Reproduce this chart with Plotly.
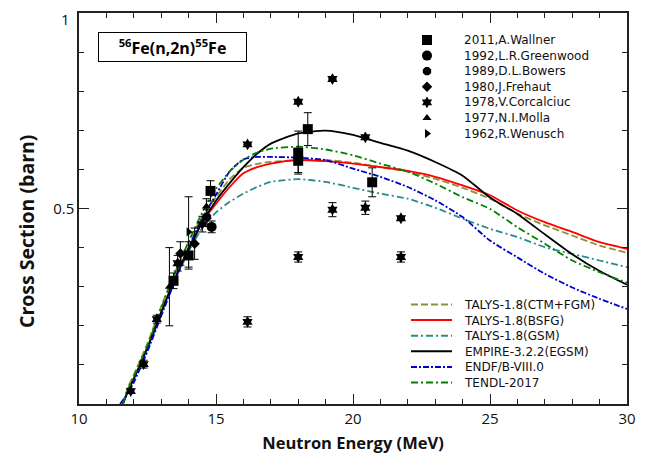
import plotly.graph_objects as go

# ---------------- data ----------------
E_grid = [11.6, 11.8, 12.0, 12.5, 13.0, 13.5, 14.0, 14.5, 15.0, 15.5, 16.0, 16.5, 17.0,
          18.0, 19.0, 20.0, 21.0, 22.0, 23.0, 24.0, 25.0, 26.0, 27.0, 28.0, 29.0, 30.0]
E_grid_endf = [11.5, 11.8, 12.0, 12.5, 13.0, 13.5, 14.0, 14.5, 15.0, 15.5, 16.0, 16.5, 17.0,
               18.0, 19.0, 20.0, 21.0, 22.0, 23.0, 24.0, 25.0, 26.0, 27.0, 28.0, 29.0, 30.0]

talys_ctm = [0.0, 0.045, 0.075, 0.155, 0.25, 0.335, 0.415, 0.48, 0.529, 0.575, 0.604, 0.614, 0.619,
             0.624, 0.624, 0.617, 0.606, 0.594, 0.576, 0.553, 0.525, 0.487, 0.457, 0.431, 0.405, 0.387]
talys_bsfg = [0.0, 0.035, 0.065, 0.145, 0.235, 0.32, 0.40, 0.465, 0.512, 0.555, 0.59, 0.606, 0.615,
              0.624, 0.621, 0.615, 0.606, 0.596, 0.581, 0.559, 0.534, 0.495, 0.465, 0.44, 0.414, 0.397]
talys_gsm = [0.0, 0.035, 0.065, 0.14, 0.23, 0.315, 0.39, 0.45, 0.49, 0.517, 0.538, 0.555, 0.568,
             0.575, 0.568, 0.553, 0.538, 0.525, 0.502, 0.474, 0.448, 0.427, 0.401, 0.384, 0.367, 0.35]
empire = [0.0, 0.035, 0.065, 0.145, 0.235, 0.32, 0.395, 0.465, 0.52, 0.565, 0.606, 0.64, 0.666,
          0.692, 0.699, 0.688, 0.668, 0.648, 0.619, 0.584, 0.528, 0.486, 0.434, 0.383, 0.34, 0.305]
endf = [0.0, 0.03, 0.055, 0.135, 0.225, 0.315, 0.40, 0.475, 0.535, 0.595, 0.626, 0.632, 0.632,
        0.630, 0.624, 0.602, 0.581, 0.555, 0.521, 0.478, 0.418, 0.375, 0.333, 0.298, 0.269, 0.243]
tendl = [0.0, 0.04, 0.07, 0.15, 0.245, 0.335, 0.415, 0.49, 0.55, 0.595, 0.625, 0.643, 0.653,
         0.658, 0.651, 0.636, 0.615, 0.594, 0.564, 0.529, 0.499, 0.452, 0.41, 0.367, 0.337, 0.31]

wallner_E = [13.45, 14.0, 14.8, 18.0, 18.0, 18.35, 20.7]
wallner_s = [0.315, 0.38, 0.545, 0.643, 0.622, 0.703, 0.567]
wallner_err = [0.02, 0.035, 0.026, 0.055, 0.03, 0.042, 0.037]

greenwood_E = [14.84]
greenwood_s = [0.453]
greenwood_err = [0.015]

bowers_E = [14.67]
bowers_s = [0.478]
bowers_err = [0.02]

frehaut_E = [13.7, 14.22]
frehaut_s = [0.385, 0.41]
frehaut_err = [0.03, 0.04]

corc_E = [11.89, 12.36, 12.84, 13.6, 14.5, 16.15, 16.15, 18.0, 18.0, 19.25, 19.25, 20.45, 20.45, 21.75, 21.75]
corc_s = [0.033, 0.102, 0.217, 0.36, 0.46, 0.664, 0.21, 0.773, 0.376, 0.831, 0.497, 0.682, 0.502, 0.475, 0.376]
corc_err = [0.005, 0.01, 0.01, 0.02, 0.02, 0, 0.013, 0, 0.013, 0, 0.018, 0, 0.017, 0, 0.013]

molla_E = [13.3, 14.65]
molla_s = [0.30, 0.505]
molla_err = [0.10, 0.02]

wenusch_E = [14.0]
wenusch_s = [0.44]
wenusch_err = [0.09]

x_ticks = [10, 15, 20, 25, 30]
y_ticks = [0.5, 1]
y_ticktext = ["0.5", "1"]

FONT = "Open Sans"
LEG_FONT = "DejaVu Sans"

# page body has an 8px margin; plot area in the page is x 79..627, y 13..404
OFF = 8
PX0, PX1, PY0, PY1 = 79, 627, 13, 404


def px(x):
    return (x - PX0) / (PX1 - PX0)


def py(y):
    return (PY1 - y) / (PY1 - PY0)


fig = go.Figure()

exp_sets = [
    ("2011,A.Wallner", wallner_E, wallner_s, wallner_err, "square", 10),
    ("1992,L.R.Greenwood", greenwood_E, greenwood_s, greenwood_err, "circle", 10),
    ("1989,D.L.Bowers", bowers_E, bowers_s, bowers_err, "octagon", 9),
    ("1980,J.Frehaut", frehaut_E, frehaut_s, frehaut_err, "diamond", 8),
    ("1978,V.Corcalciuc", corc_E, corc_s, corc_err, "hexagram", 9),
    ("1977,N.I.Molla", molla_E, molla_s, molla_err, "triangle-up", 8),
    ("1962,R.Wenusch", wenusch_E, wenusch_s, wenusch_err, "triangle-right", 8),
]

model_sets = [
    ("TALYS-1.8(CTM+FGM)", E_grid, talys_ctm, "#8f8f3a", "7px,3px"),
    ("TALYS-1.8(BSFG)", E_grid, talys_bsfg, "#ff0000", "solid"),
    ("TALYS-1.8(GSM)", E_grid, talys_gsm, "#2a8a8a", "7px,3px,2px,3px"),
    ("EMPIRE-3.2.2(EGSM)", E_grid, empire, "#000000", "solid"),
    ("ENDF/B-VIII.0", E_grid_endf, endf, "#0000cc", "6px,2px,2px,2px"),
    ("TENDL-2017", E_grid, tendl, "#008000", "7px,3px,2px,3px"),
]

for name, E, s, color, dash in model_sets:
    fig.add_trace(go.Scatter(
        x=E, y=s, mode="lines", name=name, showlegend=False,
        line=dict(color=color, dash=dash, width=1.8, shape="spline", smoothing=0.6),
    ))

for name, E, s, err, symbol, size in exp_sets:
    fig.add_trace(go.Scatter(
        x=E, y=s, mode="markers", name=name, showlegend=False,
        marker=dict(symbol=symbol, size=size, color="black"),
        error_y=dict(type="data", array=err, color="black", thickness=1, width=4, visible=True),
        cliponaxis=False,
    ))

# ---------- hand-drawn legends (paper coordinates via overlay axes) ----------
LEG_SIZE = 12
ROW = 1.3 * LEG_SIZE          # plotly line spacing for multi-line text
mk_top, mk_x, txt_x = 40, 427, 462
mk_rows = [mk_top + i * ROW for i in range(len(exp_sets))]
for (name, E, s, err, symbol, size), yrow in zip(exp_sets, mk_rows):
    fig.add_trace(go.Scatter(
        x=[px(mk_x)], y=[py(yrow)], xaxis="x2", yaxis="y2", mode="markers",
        marker=dict(symbol=symbol, size=size, color="black"), showlegend=False,
        hoverinfo="skip", cliponaxis=False,
    ))
fig.add_annotation(xref="paper", yref="paper", x=px(txt_x), y=py((mk_rows[0] + mk_rows[-1]) / 2),
                   xanchor="left", yanchor="middle", align="left", showarrow=False,
                   text="<br>".join(e[0] for e in exp_sets),
                   font=dict(family=LEG_FONT, size=LEG_SIZE, color="#111"))

ln_top = 304.5
ln_rows = [ln_top + i * ROW for i in range(len(model_sets))]
for (name, E, s, color, dash), yrow in zip(model_sets, ln_rows):
    fig.add_shape(type="line", xref="paper", yref="paper",
                  x0=px(411), x1=px(452), y0=py(yrow), y1=py(yrow),
                  line=dict(color=color, dash=dash, width=2))
fig.add_annotation(xref="paper", yref="paper", x=px(txt_x), y=py((ln_rows[0] + ln_rows[-1]) / 2),
                   xanchor="left", yanchor="middle", align="left", showarrow=False,
                   text="<br>".join(m[0] for m in model_sets),
                   font=dict(family=LEG_FONT, size=LEG_SIZE, color="#111"))

axis_common = dict(
    showline=True, linecolor="#222", linewidth=1.5, mirror="ticks",
    ticks="inside", ticklen=10, tickwidth=1.2, tickcolor="#222",
    showgrid=False, zeroline=False, automargin=False,
    tickfont=dict(family=FONT, size=15, color="#111"),
)

xaxis = dict(
    range=[10, 30], tickvals=x_ticks,
    minor=dict(dtick=1, tick0=10, ticks="inside", ticklen=5, tickcolor="#222", tickwidth=1.2, showgrid=False),
    title=dict(text="<b>Neutron Energy (MeV)</b>", font=dict(family=FONT, size=16.5, color="#111"), standoff=11),
    **axis_common,
)
# the label of the top tick (1) sits at the very edge of the page, so it is
# drawn as an annotation just inside the figure instead of as an axis label
yaxis = dict(
    range=[0, 1], tickvals=y_ticks[:1], ticktext=y_ticktext[:1],
    minor=dict(dtick=0.1, tick0=0, ticks="inside", ticklen=5, tickcolor="#222", tickwidth=1.2, showgrid=False),
    **axis_common,
)
fig.add_annotation(
    xref="paper", yref="y", x=px(71), y=y_ticks[1], xanchor="right", yanchor="top",
    yshift=(PY0 - OFF), text=y_ticktext[1], showarrow=False, borderpad=0,
    font=dict(family=FONT, size=15, color="#111"),
)

# y-axis title (placed as in the reference, slightly below the axis centre)
fig.add_annotation(
    xref="paper", yref="paper", x=px(26), y=py(232), xanchor="center", yanchor="middle",
    text="<b>Cross Section (barn)</b>", showarrow=False, textangle=-90,
    font=dict(family=FONT, size=19.5, color="#111"),
)

fig.add_annotation(
    xref="paper", yref="paper", x=px(98), y=py(32), xanchor="left", yanchor="top",
    text="<b><sup>56</sup>Fe(n,2n)<sup>55</sup>Fe</b>", showarrow=False,
    font=dict(family=FONT, size=16, color="black"),
    bordercolor="black", borderwidth=1, borderpad=3, width=141, height=22, bgcolor="white",
)

fig.update_layout(
    width=646 - OFF, height=462 - OFF,
    margin=dict(l=PX0 - OFF, r=646 - PX1, t=PY0 - OFF, b=462 - PY1),
    paper_bgcolor="white", plot_bgcolor="white",
    font=dict(family=FONT, size=13, color="#111"),
    showlegend=False,
    xaxis=xaxis, yaxis=yaxis,
    xaxis2=dict(overlaying="x", range=[0, 1], visible=False, fixedrange=True),
    yaxis2=dict(overlaying="y", range=[0, 1], visible=False, fixedrange=True),
)

fig.write_html("out.html")
